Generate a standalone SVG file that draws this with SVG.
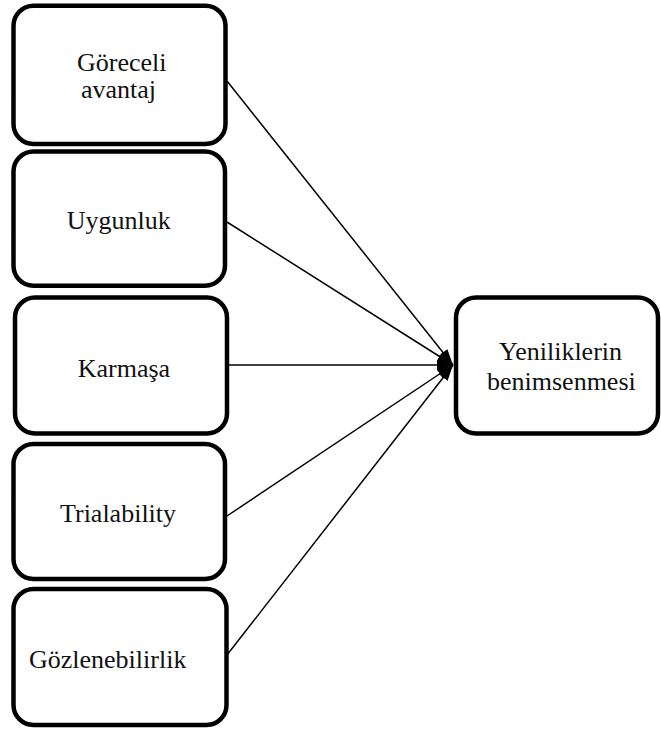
<svg xmlns="http://www.w3.org/2000/svg" width="661" height="731" viewBox="0 0 661 731">
  <style>
    .box { fill: #ffffff; stroke: #000000; stroke-width: 4.5; }
    text { font-family: 'Liberation Serif', 'DejaVu Serif', serif; font-size: 26px; fill: #111111; }
    .link { stroke: #000000; stroke-width: 1.5; fill: none; marker-end: url(#head); }
  </style>
  <defs>
    <marker id="head" markerUnits="userSpaceOnUse" markerWidth="16" markerHeight="12" refX="16" refY="6" orient="auto">
      <path d="M0,0.5 L16,6 L0,11.5 z" fill="#000000"/>
    </marker>
  </defs>

  <g id="connectors">
    <line class="link" x1="227" y1="81" x2="453" y2="365"/>
    <line class="link" x1="227" y1="222" x2="453" y2="365"/>
    <line class="link" x1="228" y1="365" x2="453" y2="365"/>
    <line class="link" x1="227" y1="516" x2="453" y2="365"/>
    <line class="link" x1="227" y1="655" x2="453" y2="365"/>
  </g>

  <g id="goreceli-avantaj">
    <rect class="box" x="13.5" y="5.8" width="212" height="138.2" rx="20"/>
    <text x="77" y="70.5" font-family="Liberation Serif, serif">Göreceli</text>
    <text x="81" y="97.5" font-family="Liberation Serif, serif">avantaj</text>
  </g>

  <g id="uygunluk">
    <rect class="box" x="13.5" y="151.5" width="211.5" height="134.3" rx="20"/>
    <text x="66.7" y="229.3" font-family="Liberation Serif, serif">Uygunluk</text>
  </g>

  <g id="karmasa">
    <rect class="box" x="15" y="297.5" width="212" height="136" rx="20"/>
    <text x="77.7" y="377.3" font-family="Liberation Serif, serif">Karmaşa</text>
  </g>

  <g id="trialability">
    <rect class="box" x="13.5" y="444" width="211.5" height="135" rx="20"/>
    <text x="60" y="521.7" font-family="Liberation Serif, serif">Trialability</text>
  </g>

  <g id="gozlenebilirlik">
    <rect class="box" x="13.5" y="589" width="213" height="136" rx="20"/>
    <text x="29" y="668.3" font-family="Liberation Serif, serif">Gözlenebilirlik</text>
  </g>

  <g id="yeniliklerin-benimsenmesi">
    <rect class="box" x="456" y="297.5" width="202" height="136" rx="20"/>
    <text x="499" y="360" font-family="Liberation Serif, serif">Yeniliklerin</text>
    <text x="487" y="390" font-family="Liberation Serif, serif">benimsenmesi</text>
  </g>
</svg>
